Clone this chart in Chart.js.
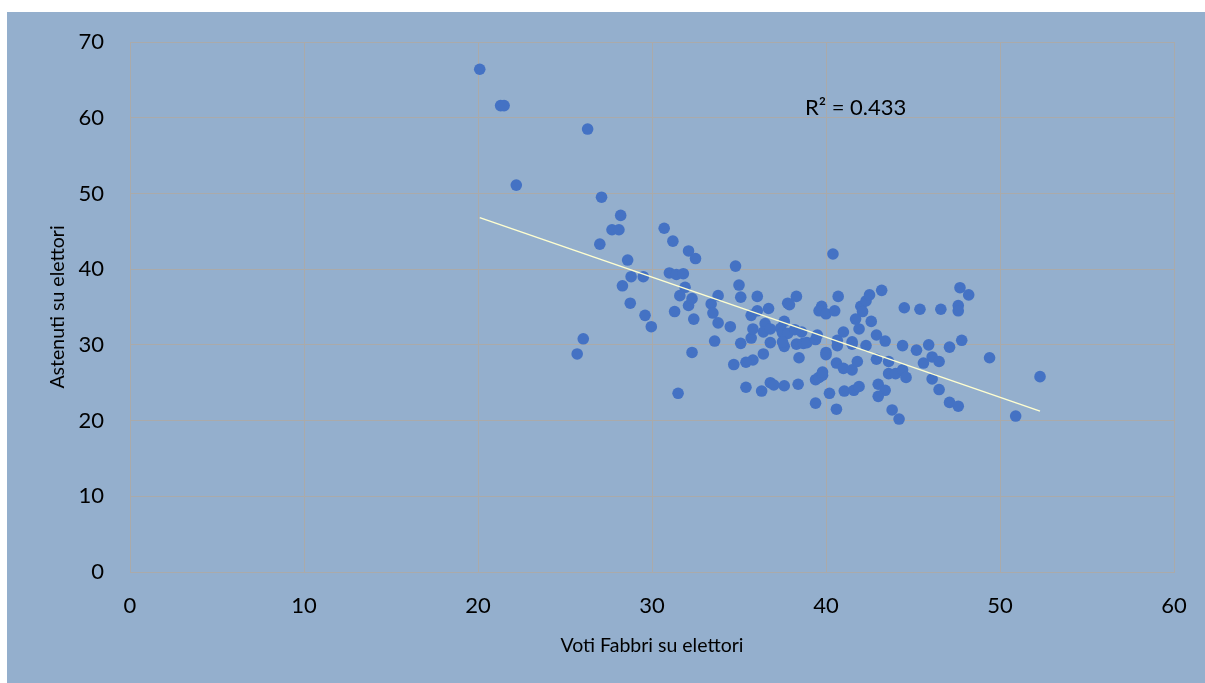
<!DOCTYPE html>
<html>
<head>
<meta charset="utf-8">
<script src="https://cdn.jsdelivr.net/npm/chart.js@4"></script>
<style>
    body { margin: 0; background: #ffffff; }
    #box {
        position: absolute;
        left: 7px; top: 12px;
        width: 1198px; height: 671px;
        background: rgb(148,175,205);
    }
</style>
</head>
<body>
<div id="box"><canvas id="grafico" width="1198" height="671"></canvas></div>
<script>
// Voti Fabbri su elettori (x) / Astenuti su elettori (y)
const votiFabbri = [
    20.1, 21.3, 21.5, 26.3, 22.2, 27.1, 28.2, 27.7, 28.1, 27.0,
    30.7, 31.2, 32.1, 32.5, 28.6, 34.8, 28.8, 29.5, 31.0, 31.4,
    31.8, 28.3, 31.9, 35.0, 28.75, 29.6, 29.96, 26.05, 25.7, 31.5,
    32.3, 31.3, 31.6, 32.1, 32.3, 32.4, 35.1, 36.05, 33.8, 33.4,
    33.5, 33.8, 34.5, 33.6, 35.1, 35.7, 35.8, 35.7, 36.05, 36.7,
    36.5, 36.4, 36.8, 36.8, 36.4, 35.8, 35.4, 34.7, 35.4, 36.3,
    36.8, 37.0, 37.6, 38.4, 37.8, 37.9, 38.3, 37.6, 37.4, 37.5,
    37.8, 37.6, 37.5, 38.2, 38.6, 38.3, 38.7, 38.9, 38.45, 39.4,
    39.5, 39.75, 39.6, 40.0, 40.5, 40.4, 40.7, 40.0, 40.0, 39.4,
    39.6, 39.8, 39.8, 39.4, 40.2, 40.6, 40.65, 40.65, 40.6, 42.0,
    42.3, 42.5, 42.1, 41.7, 41.9, 42.6, 43.2, 41.0, 41.5, 41.5,
    42.3, 42.9, 43.4, 44.4, 45.2, 45.9, 47.1, 47.8, 49.4, 52.3,
    50.9, 44.5, 45.4, 46.6, 47.7, 48.2, 47.6, 47.6, 41.0, 41.5,
    41.8, 42.9, 43.6, 45.6, 46.1, 46.5, 43.6, 44.0, 44.4, 44.6,
    46.1, 46.5, 47.1, 47.6, 41.05, 41.6, 41.9, 43.0, 43.4, 43.0,
    43.8, 44.2
];
const astenuti = [
    66.4, 61.6, 61.6, 58.5, 51.1, 49.5, 47.1, 45.2, 45.2, 43.3,
    45.4, 43.7, 42.4, 41.4, 41.2, 40.4, 39.0, 39.0, 39.5, 39.3,
    39.4, 37.8, 37.6, 37.9, 35.5, 33.9, 32.4, 30.8, 28.8, 23.6,
    29.0, 34.4, 36.5, 35.2, 36.1, 33.4, 36.3, 36.4, 36.5, 35.4,
    34.2, 32.9, 32.4, 30.5, 30.2, 30.9, 32.1, 33.9, 34.5, 34.8,
    32.8, 31.7, 32.1, 30.3, 28.8, 28.0, 27.7, 27.4, 24.4, 23.9,
    25.0, 24.7, 24.6, 24.8, 35.5, 35.3, 36.4, 33.1, 32.2, 31.6,
    31.5, 29.8, 30.4, 32.0, 31.7, 30.1, 30.2, 30.3, 28.3, 30.7,
    31.3, 35.1, 34.5, 34.1, 34.5, 42.0, 36.4, 29.0, 28.7, 25.4,
    25.7, 26.0, 26.4, 22.3, 23.6, 21.5, 30.6, 29.9, 27.6, 35.1,
    35.8, 36.6, 34.4, 33.4, 32.1, 33.1, 37.2, 31.7, 30.4, 30.1,
    29.9, 31.3, 30.5, 29.9, 29.3, 30.0, 29.7, 30.6, 28.3, 25.8,
    20.6, 34.9, 34.7, 34.7, 37.55, 36.6, 35.2, 34.5, 26.9, 26.7,
    27.8, 28.1, 27.8, 27.6, 28.4, 27.8, 26.2, 26.2, 26.7, 25.7,
    25.5, 24.1, 22.4, 21.9, 23.9, 24.0, 24.5, 24.8, 24.0, 23.2,
    21.4, 20.2
];
const xTicks = [0, 10, 20, 30, 40, 50, 60];
const yTicks = [0, 10, 20, 30, 40, 50, 60, 70];
const etichettaR2 = "R\u00B2 = 0.433";
const posizioneR2 = [41.7, 61.3];

const punti = votiFabbri.map((x, i) => ({ x: x, y: astenuti[i] }));

// retta di tendenza lineare (minimi quadrati)
const n = punti.length;
const mx = votiFabbri.reduce((a, b) => a + b, 0) / n;
const my = astenuti.reduce((a, b) => a + b, 0) / n;
let sxy = 0, sxx = 0;
punti.forEach(p => { sxy += (p.x - mx) * (p.y - my); sxx += (p.x - mx) * (p.x - mx); });
const pendenza = sxy / sxx;
const intercetta = my - pendenza * mx;
const xMin = Math.min(...votiFabbri);
const xMax = Math.max(...votiFabbri);
const tendenza = [
    { x: xMin, y: intercetta + pendenza * xMin },
    { x: xMax, y: intercetta + pendenza * xMax }
];

const FONT = "Lato, 'Open Sans', sans-serif";
const GRIGLIA = "rgb(170,170,170)";

const etichettaPlugin = {
    id: "etichettaR2",
    afterDatasetsDraw(chart) {
        const ctx = chart.ctx;
        const xs = chart.scales.x, ys = chart.scales.y;
        ctx.save();
        ctx.font = "22px " + FONT;
        ctx.fillStyle = "#000000";
        ctx.textAlign = "center";
        ctx.textBaseline = "middle";
        ctx.fillText(etichettaR2, xs.getPixelForValue(posizioneR2[0]), ys.getPixelForValue(posizioneR2[1]));
        ctx.restore();
    }
};

new Chart(document.getElementById("grafico"), {
    type: "scatter",
    data: {
        datasets: [
            {
                label: "Astenuti",
                data: punti,
                backgroundColor: "#4472C4",
                borderWidth: 0,
                pointRadius: 5.8,
                pointHoverRadius: 5.8,
                order: 2
            },
            {
                type: "line",
                label: "Tendenza",
                data: tendenza,
                borderColor: "#FFFFD0",
                borderWidth: 1.5,
                pointRadius: 0,
                fill: false,
                order: 1
            }
        ]
    },
    options: {
        responsive: false,
        animation: false,
        layout: { padding: { top: 30, right: 31, left: 0, bottom: 0 } },
        plugins: {
            legend: { display: false },
            tooltip: { enabled: false }
        },
        scales: {
            x: {
                type: "linear",
                min: xTicks[0],
                max: xTicks[xTicks.length - 1],
                afterBuildTicks: s => { s.ticks = xTicks.map(v => ({ value: v })); },
                afterFit: s => { s.height = 111; s.paddingLeft = 0; s.paddingRight = 0; },
                grid: { color: GRIGLIA, drawTicks: false, lineWidth: 1 },
                border: { color: GRIGLIA },
                ticks: { color: "#000000", font: { family: FONT, size: 22 }, padding: 21 },
                title: {
                    display: true,
                    text: "Voti Fabbri su elettori",
                    color: "#000000",
                    font: { family: FONT, size: 19.5 },
                    padding: { top: 0, bottom: 26 }
                }
            },
            y: {
                type: "linear",
                min: yTicks[0],
                max: yTicks[yTicks.length - 1],
                afterBuildTicks: s => { s.ticks = yTicks.map(v => ({ value: v })); },
                afterFit: s => { s.width = 123; s.paddingTop = 0; s.paddingBottom = 0; },
                grid: { color: GRIGLIA, drawTicks: false, lineWidth: 1 },
                border: { color: GRIGLIA },
                ticks: { color: "#000000", font: { family: FONT, size: 22 }, padding: 26 },
                title: {
                    display: true,
                    text: "Astenuti su elettori",
                    color: "#000000",
                    font: { family: FONT, size: 19.5 },
                    padding: { top: 39, bottom: 0 }
                }
            }
        }
    },
    plugins: [etichettaPlugin]
});
</script>
</body>
</html>
